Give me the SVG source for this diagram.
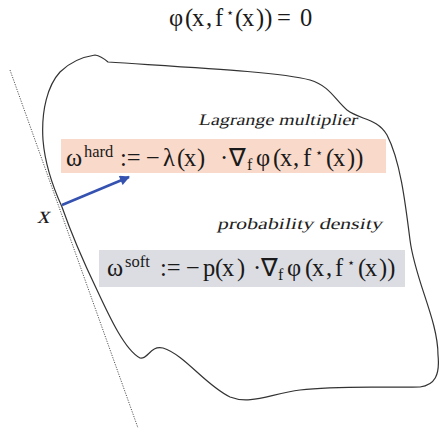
<svg xmlns="http://www.w3.org/2000/svg" width="439" height="433" viewBox="0 0 439 433">
<defs>
<style>
text{font-family:'Liberation Serif',serif;fill:#1a1a1a}
.f{font-size:24.5px}
.sup{font-size:16.5px}
.sub{font-size:16px}
.st{font-size:13px;font-family:'DejaVu Sans',sans-serif}
.lbl{font-size:16px;fill:#222}
.blob{fill:none;stroke:#333;stroke-width:1.2}
</style>
<marker id="ah" viewBox="0 0 10 10" refX="9" refY="5" markerWidth="4.4" markerHeight="4" orient="auto" markerUnits="strokeWidth">
<path d="M0,0 L10,5 L0,10 z" fill="#3552b0"/>
</marker>
</defs>
<rect width="439" height="433" fill="#fff"/>
<g id="title"><text class="f" y="26"><tspan x="169">φ</tspan><tspan x="185">(</tspan><tspan x="192">x</tspan><tspan x="206">,</tspan><tspan x="215">f</tspan><tspan x="226" dy="-9" class="st">⋆</tspan><tspan x="235" dy="9">(</tspan><tspan x="242">x</tspan><tspan x="256">))</tspan><tspan x="277">=</tspan><tspan x="300">0</tspan></text></g>
<g id="region"><path class="blob" d="M43,140 C41,110 48,85 60,72 C70,62 82,57 95,55 Q101,56 108,62 C200,68 280,72 310,80 C330,86 335,100 347,110 C360,120 377,118 387,135 C400,160 405,200 410,240 C415,280 438,320 438,355 C440,375 435,385 420,387 C390,388 340,385 300,390 C270,394 250,405 230,397 C205,385 185,355 163,348 C150,345 148,360 140,358 C125,350 110,318 97,290 C85,265 70,230 62,207 C52,185 45,165 43,140 Z"/></g>
<g id="tangent"><line x1="10" y1="70" x2="138" y2="428" stroke="#555" stroke-width="1" stroke-dasharray="1.2 1.3"/></g>
<g id="hard">
<rect x="61" y="139" width="325" height="34" fill="#f9d9c9"/>
<text class="f" y="166"><tspan x="66">ω</tspan><tspan x="84" dy="-9" class="sup">hard</tspan><tspan x="120" dy="9">:=</tspan><tspan x="146">−</tspan><tspan x="163">λ</tspan><tspan x="177">(</tspan><tspan x="184">x</tspan><tspan x="197">)</tspan><tspan x="220">·</tspan><tspan x="229">∇</tspan><tspan x="247" dy="4" class="sub">f</tspan><tspan x="256" dy="-4">φ</tspan><tspan x="273">(</tspan><tspan x="280">x</tspan><tspan x="293">,</tspan><tspan x="303">f</tspan><tspan x="315" dy="-9" class="st">⋆</tspan><tspan x="326" dy="9">(</tspan><tspan x="333">x</tspan><tspan x="347">))</tspan></text>
</g>
<g id="soft">
<rect x="99" y="250" width="306" height="37" fill="#dcdde3"/>
<text class="f" y="276"><tspan x="107">ω</tspan><tspan x="125" dy="-9" class="sup">soft</tspan><tspan x="160" dy="9">:=</tspan><tspan x="186">−</tspan><tspan x="203">p</tspan><tspan x="215">(</tspan><tspan x="222">x</tspan><tspan x="237">)</tspan><tspan x="253">·</tspan><tspan x="261">∇</tspan><tspan x="278" dy="4" class="sub">f</tspan><tspan x="287" dy="-4">φ</tspan><tspan x="305">(</tspan><tspan x="312">x</tspan><tspan x="326">,</tspan><tspan x="335">f</tspan><tspan x="347" dy="-9" class="st">⋆</tspan><tspan x="358" dy="9">(</tspan><tspan x="365">x</tspan><tspan x="379">))</tspan></text>
</g>
<g id="labels">
<text class="lbl" transform="translate(198,125) skewX(-13)" textLength="159" lengthAdjust="spacingAndGlyphs">Lagrange multiplier</text>
<text class="lbl" transform="translate(217,229) skewX(-13)" textLength="165" lengthAdjust="spacingAndGlyphs">probability density</text>
<text class="f" transform="translate(37,223) skewX(-13)">x</text>
</g>
<g id="connectors"><line x1="62" y1="205" x2="129" y2="177" stroke="#3552b0" stroke-width="2.5" marker-end="url(#ah)"/></g>
</svg>
